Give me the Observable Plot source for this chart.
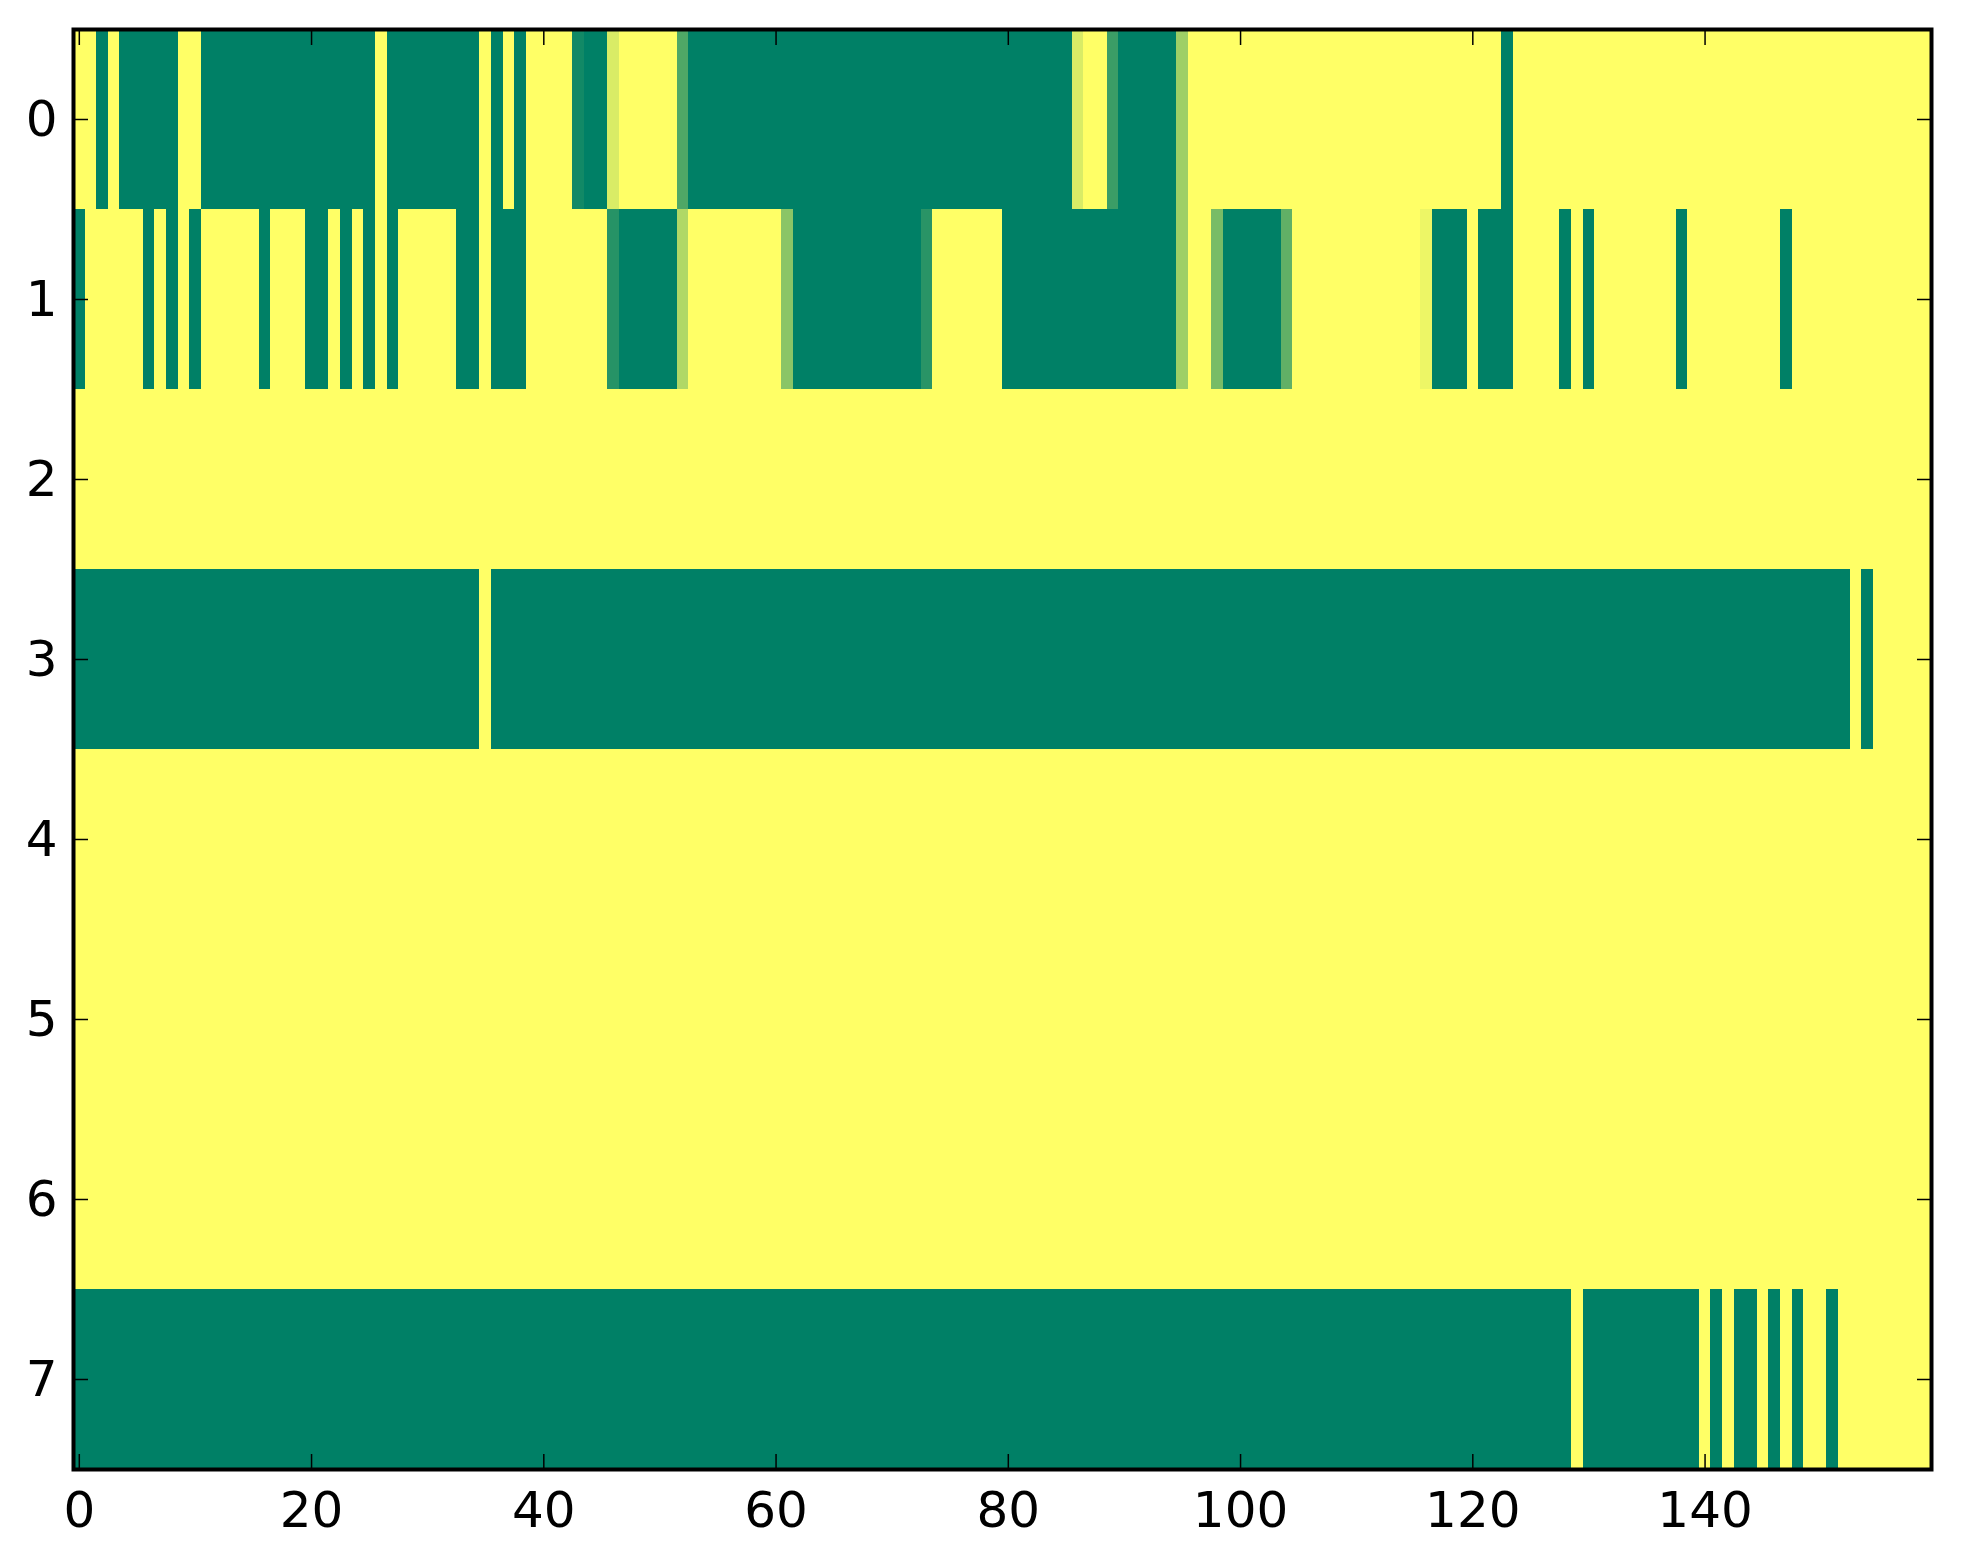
<!DOCTYPE html>
<html>
<head>
<meta charset="utf-8">
<script src="https://cdn.jsdelivr.net/npm/d3@7"></script>
<script src="https://cdn.jsdelivr.net/npm/@observablehq/plot@0.6"></script>
<style>
  html, body { margin: 0; padding: 0; background: #ffffff; }
  #chart { width: 1963px; height: 1564px; }
</style>
</head>
<body>
<div id="chart"></div>
<script>
// Each row is written as runs of [value, number of columns], read left to right (160 columns).
const row0 = [[1,2],[0,1],[1,1],[0,5],[1,2],[0,15],[1,1],[0,8],[1,1],[0,1],[1,1],[0,1],[1,4],[0.07,1],[0,2],[0.85,1],[1,5],[0.31,1],[0,33],[0.85,1],[1,2],[0.23,1],[0,5],[0.62,1],[1,27],[0,1],[1,36]];
const row1 = [[0,1],[1,5],[0,1],[1,1],[0,1],[1,1],[0,1],[1,5],[0,1],[1,3],[0,2],[1,1],[0,1],[1,1],[0,1],[1,1],[0,1],[1,5],[0,2],[1,1],[0,3],[1,7],[0.15,1],[0,5],[0.69,1],[1,8],[0.54,1],[0,11],[0.16,1],[1,6],[0,15],[0.62,1],[1,2],[0.47,1],[0,5],[0.38,1],[1,11],[0.93,1],[0,3],[1,1],[0,3],[1,4],[0,1],[1,1],[0,1],[1,7],[0,1],[1,8],[0,1],[1,12]];
const row2 = [[1,160]];
const row3 = [[0,35],[1,1],[0,117],[1,1],[0,1],[1,5]];
const row4 = [[1,160]];
const row5 = [[1,160]];
const row6 = [[1,160]];
const row7 = [[0,129],[1,1],[0,10],[1,1],[0,1],[1,1],[0,2],[1,1],[0,1],[1,1],[0,1],[1,2],[0,1],[1,8]];

const rows = [row0, row1, row2, row3, row4, row5, row6, row7];
const xTicks = [0, 20, 40, 60, 80, 100, 120, 140];
const yTicks = [0, 1, 2, 3, 4, 5, 6, 7];
const nCols = 160;

// expand runs into one record per cell
const cells = [];
rows.forEach((runs, r) => {
  let c = 0;
  for (const [v, n] of runs) {
    for (let k = 0; k < n; k++) { cells.push({row: r, col: c, v}); c++; }
  }
});

const W = 1963, H = 1564;
const FONT = "DejaVu Sans";
const fs = 50;
const intFmt = d => String(d);

const chart = Plot.plot({
  width: W,
  height: H,
  marginLeft: 73,
  marginRight: 32,
  marginTop: 29,
  marginBottom: 95,
  style: {fontFamily: FONT, fontSize: fs + "px", background: "#ffffff", color: "#000000"},
  x: {domain: [-0.5, nCols - 0.5]},
  y: {domain: [-0.5, rows.length - 0.5], reverse: true},
  color: {type: "linear", domain: [0, 1], range: ["#008066", "#ffff66"], interpolate: "rgb"},
  marks: [
    Plot.rect(cells, {
      x1: d => d.col - 0.5, x2: d => d.col + 0.5,
      y1: d => d.row - 0.5, y2: d => d.row + 0.5,
      fill: "v",
      shapeRendering: "crispEdges"
    }),
    // tick marks pointing inward on all four sides
    Plot.axisX(xTicks, {anchor: "bottom", tickSize: 15, dy: -15, fill: "none", label: null, stroke: "#000", strokeWidth: 1.5}),
    Plot.axisX(xTicks, {anchor: "top", tickSize: 15, dy: 15, fill: "none", label: null, stroke: "#000", strokeWidth: 1.5}),
    Plot.axisY(yTicks, {anchor: "left", tickSize: 15, dx: 15, fill: "none", label: null, stroke: "#000", strokeWidth: 1.5}),
    Plot.axisY(yTicks, {anchor: "right", tickSize: 15, dx: -15, fill: "none", label: null, stroke: "#000", strokeWidth: 1.5}),
    // tick labels
    Plot.axisX(xTicks, {anchor: "bottom", tickSize: 0, tickPadding: 22, label: null, fontSize: fs, fill: "#000", tickFormat: intFmt}),
    Plot.axisY(yTicks, {anchor: "left", tickSize: 0, tickPadding: 16, label: null, fontSize: fs, fill: "#000", tickFormat: intFmt}),
    Plot.frame({stroke: "#000", strokeWidth: 4})
  ]
});

document.getElementById("chart").appendChild(chart);
</script>
</body>
</html>
